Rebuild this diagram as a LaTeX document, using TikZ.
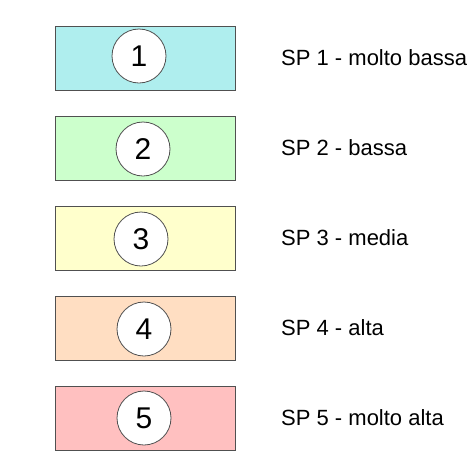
\documentclass[tikz,border=0pt]{standalone}
\usepackage{fontspec}
\setmainfont{Liberation Sans}
\definecolor{spcyan}{RGB}{175,238,238}
\definecolor{spgreen}{RGB}{204,255,204}
\definecolor{spyellow}{RGB}{255,255,204}
\definecolor{sporange}{RGB}{255,222,194}
\definecolor{sppink}{RGB}{255,192,192}
\definecolor{spedge}{RGB}{80,80,80}

\begin{document}
\begin{tikzpicture}[x=1pt, y=-1pt,
        band/.style={draw=spedge, line width=1pt, minimum width=180pt, minimum height=64pt, inner sep=0pt},
        badge/.style={circle, draw=spedge, line width=0.8pt, fill=white, minimum size=54pt, inner sep=0pt, font=\fontsize{30}{30}\selectfont},
        caption/.style={anchor=west, inner sep=0pt, font=\fontsize{22}{24}\selectfont}]
        \useasboundingbox (0,0) rectangle (469,464);

        \node (band1) [band, fill=spcyan] at (145,58) {};
        \node (sp1) [badge] at (139,56) {1};
        \node (lab1) [caption] at (281,58) {SP 1 - molto bassa};

        \node (band2) [band, fill=spgreen] at (145,148) {};
        \node (sp2) [badge] at (143,149) {2};
        \node (lab2) [caption] at (281,148) {SP 2 - bassa};

        \node (band3) [band, fill=spyellow] at (145,238) {};
        \node (sp3) [badge] at (141,239) {3};
        \node (lab3) [caption] at (281,238) {SP 3 - media};

        \node (band4) [band, fill=sporange] at (145,328) {};
        \node (sp4) [badge] at (144,329) {4};
        \node (lab4) [caption] at (281,328) {SP 4 - alta};

        \node (band5) [band, fill=sppink] at (145,418) {};
        \node (sp5) [badge] at (144,418) {5};
        \node (lab5) [caption] at (281,418) {SP 5 - molto alta};
    \end{tikzpicture}
\end{document}
